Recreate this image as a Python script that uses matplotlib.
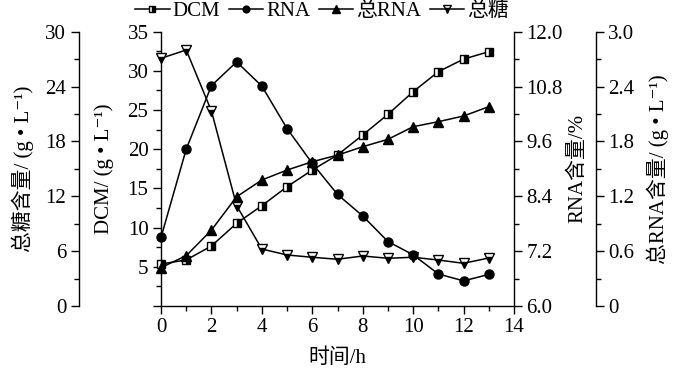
import matplotlib
matplotlib.use("Agg")
import matplotlib.pyplot as plt
from matplotlib.ticker import MultipleLocator, FixedLocator, FixedFormatter, FormatStrFormatter

FAM = ['Liberation Serif', 'Noto Sans CJK SC', 'DejaVu Serif']
plt.rcParams['font.family'] = FAM

time_h = list(range(14))
dcm = [5.36, 5.87, 7.66, 10.55, 12.8, 15.22, 17.35, 19.27, 21.82, 24.46, 27.34, 29.9, 31.5, 32.45]
rna_pct = [7.50, 9.43, 10.82, 11.34, 10.81, 9.88, 9.12, 8.44, 7.97, 7.41, 7.12, 6.70, 6.55, 6.69]
total_rna = [0.42, 0.55, 0.83, 1.195, 1.378, 1.487, 1.578, 1.65, 1.742, 1.823, 1.961, 2.016, 2.078, 2.18]
total_sugar = [27.09, 28.0, 21.33, 10.97, 6.23, 5.58, 5.33, 5.11, 5.47, 5.22, 5.33, 5.03, 4.67, 5.25]
dcm_ticks = [0, 5, 10, 15, 20, 25, 30, 35]
dcm_labels = ['', '5', '10', '15', '20', '25', '30', '35']
trna_ticks = [0, 0.6, 1.2, 1.8, 2.4, 3.0]
trna_labels = ['0', '0.6', '1.2', '1.8', '2.4', '3.0']
legend_labels = ['DCM', 'RNA', '总RNA', '总糖']

FS = 15
W, H = 673, 381
fig = plt.figure(figsize=(W / 100, H / 100), dpi=100)
x0, x1, yb, yt = 161, 514, 306, 31.7
ax = fig.add_axes([x0 / W, (H - yb) / H, (x1 - x0) / W, (yb - yt) / H])
ax.patch.set_alpha(0)

ax_sugar = ax.twinx()
ax_rna = ax.twinx()
ax_trna = ax.twinx()

def style(a):
    a.tick_params(which='major', direction='out', length=6, width=1, labelsize=FS, pad=3)
    a.tick_params(which='minor', direction='out', length=3.5, width=1)
    for s in a.spines.values():
        s.set_linewidth(1)
        s.set_color('black')

for a in (ax, ax_sugar, ax_rna, ax_trna):
    style(a)
    a.spines['top'].set_visible(False)

ax.set_xlim(0, 14)
ax.xaxis.set_major_locator(MultipleLocator(2))
ax.xaxis.set_minor_locator(MultipleLocator(1))
ax.set_ylim(0, 35)
ax.yaxis.set_major_locator(FixedLocator(dcm_ticks))
ax.yaxis.set_major_formatter(FixedFormatter(dcm_labels))
ax.yaxis.set_minor_locator(MultipleLocator(2.5))
ax.spines['right'].set_visible(False)
ax.set_xlabel('时间/h', fontsize=FS, labelpad=8)
ax.set_ylabel('DCM/ (g • L⁻¹)', fontsize=FS, labelpad=10)

ax_sugar.yaxis.set_label_position('left')
ax_sugar.yaxis.set_ticks_position('left')
ax_sugar.spines['left'].set_position(('axes', (78.7 - x0) / (x1 - x0)))
ax_sugar.spines['right'].set_visible(False)
ax_sugar.spines['bottom'].set_visible(False)
ax_sugar.set_ylim(0, 30)
ax_sugar.yaxis.set_major_locator(MultipleLocator(6))
ax_sugar.yaxis.set_minor_locator(MultipleLocator(3))
ax_sugar.set_ylabel('总糖含量/ (g • L⁻¹)', fontsize=FS, labelpad=8)

ax_rna.spines['left'].set_visible(False)
ax_rna.spines['bottom'].set_visible(False)
ax_rna.set_ylim(6.0, 12.0)
ax_rna.yaxis.set_major_locator(MultipleLocator(1.2))
ax_rna.yaxis.set_minor_locator(MultipleLocator(0.6))
ax_rna.yaxis.set_major_formatter(FormatStrFormatter('%.1f'))
ax_rna.set_ylabel('RNA含量/%', fontsize=FS, labelpad=4)

ax_trna.spines['right'].set_position(('axes', (595.7 - x0) / (x1 - x0)))
ax_trna.spines['left'].set_visible(False)
ax_trna.spines['bottom'].set_visible(False)
ax_trna.set_ylim(0, 3.0)
ax_trna.yaxis.set_major_locator(FixedLocator(trna_ticks))
ax_trna.yaxis.set_major_formatter(FixedFormatter(trna_labels))
ax_trna.yaxis.set_minor_locator(MultipleLocator(0.3))
ax_trna.set_ylabel('总RNA含量/ (g • L⁻¹)', fontsize=FS, labelpad=9)

lw = 1.1
l1, = ax.plot(time_h, dcm, color='black', lw=lw, marker='s', ms=5.5, mec='black',
              mfc='black', mfcalt='white', fillstyle='right', mew=1, clip_on=False, zorder=5)
l2, = ax_rna.plot(time_h, rna_pct, color='black', lw=lw, marker='o', ms=6.5, mfc='black',
                  mec='black', clip_on=False, zorder=5)
l3, = ax_trna.plot(time_h, total_rna, color='black', lw=lw, marker='^', ms=7, mfc='black',
                   mec='black', clip_on=False, zorder=5)
l4, = ax_sugar.plot(time_h, total_sugar, color='black', lw=lw, marker='v', ms=7, mec='black',
                    mfc='black', mfcalt='white', fillstyle='bottom', mew=1, clip_on=False, zorder=5)

fig.legend([l1, l2, l3, l4], legend_labels, loc='center',
           bbox_to_anchor=(322 / W, 1 - 11 / H), ncol=4, frameon=False, fontsize=FS,
           handlelength=1.65, handletextpad=0.15, columnspacing=0.4, markerscale=0.75,
           borderpad=0, borderaxespad=0)

fig.savefig('out.png', dpi=100)
